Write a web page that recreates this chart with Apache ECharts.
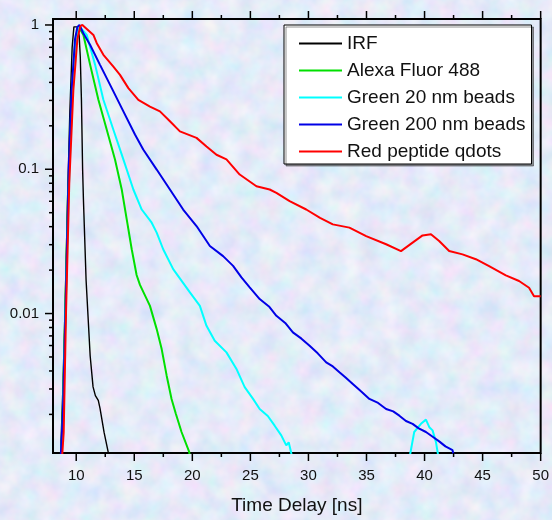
<!DOCTYPE html>
<html>
<head>
<meta charset="utf-8">
<title>Fluorescence decay</title>
<script src="https://cdn.jsdelivr.net/npm/echarts/dist/echarts.min.js"></script>
<style>
  html, body { margin: 0; padding: 0; }
  body {
    width: 552px; height: 520px; overflow: hidden;
    background: #c6d2f0 url("data:image/svg+xml;utf8,<svg xmlns='http://www.w3.org/2000/svg' width='552' height='520'><filter id='n'><feTurbulence type='fractalNoise' baseFrequency='0.05' numOctaves='3' seed='7'/><feColorMatrix values='0.4 0 0 0 0.58  0 0.24 0 0 0.71  0 0 0.14 0 0.87  0 0 0 0 1'/></filter><rect width='552' height='520' filter='url(%23n)'/></svg>");
  }
  #chart { width: 552px; height: 520px; }
</style>
</head>
<body>
<div id="chart"></div>
<script>
// time delay [ns], normalised counts
const irf = [
  [8.6, 0.0008], [8.85, 0.003], [9.05, 0.012], [9.25, 0.06], [9.45, 0.25], [9.65, 0.7],
  [9.8, 0.97], [9.95, 1.0], [10.1, 0.97], [10.25, 0.85], [10.35, 0.6], [10.45, 0.3],
  [10.55, 0.1], [10.62, 0.062], [10.85, 0.017], [11.2, 0.0051], [11.45, 0.0031],
  [11.65, 0.0027], [11.9, 0.0025], [12.05, 0.0022], [12.4, 0.0015], [12.75, 0.0011], [12.85, 0.0009]
]
const alexa = [
  [8.6, 0.0008], [8.8, 0.0015], [9.05, 0.01], [9.3, 0.07], [9.6, 0.3], [9.9, 0.75],
  [10.2, 0.98], [10.35, 1.0], [10.62, 0.853], [11.2, 0.529], [11.91, 0.303], [12.63, 0.188],
  [13.34, 0.117], [13.92, 0.0724], [14.35, 0.0449], [14.78, 0.0279], [15.2, 0.0185],
  [15.49, 0.0158], [16.35, 0.0113], [16.93, 0.0078], [17.36, 0.00567], [17.79, 0.00371],
  [18.21, 0.00256], [18.58, 0.00202], [19.07, 0.00151], [19.73, 0.0011], [19.85, 0.0009]
]
const beads20 = [
  [8.6, 0.0008], [8.82, 0.0015], [9.08, 0.01], [9.35, 0.07], [9.65, 0.3], [9.95, 0.75],
  [10.25, 0.98], [10.4, 1.0], [10.91, 0.853], [11.63, 0.529], [12.34, 0.303], [13.2, 0.188],
  [14.06, 0.117], [14.92, 0.0724], [15.64, 0.0526], [16.5, 0.0426], [16.93, 0.0364],
  [17.49, 0.0279], [18.35, 0.0203], [19.79, 0.014], [20.65, 0.0113], [21.22, 0.00822],
  [21.93, 0.00648], [22.94, 0.00538], [23.8, 0.00413], [24.51, 0.00309], [25.23, 0.00256],
  [25.8, 0.00218], [26.5, 0.00195], [27.09, 0.00167], [27.66, 0.00143], [28.09, 0.00122],
  [28.3, 0.00128], [28.52, 0.00108], [28.7, 0.0009],
  [34, '-'],
  [38.6, 0.0009], [39.11, 0.00151], [39.69, 0.00172], [40.12, 0.00184], [40.41, 0.00163],
  [40.69, 0.00155], [40.98, 0.00129], [41.3, 0.0009]
]
const beads200 = [
  [8.6, 0.0008], [8.85, 0.002], [9.1, 0.012], [9.35, 0.1], [9.6, 0.35], [9.9, 0.8],
  [10.1, 0.97], [10.28, 1.0], [10.6, 0.88], [11.2, 0.727], [12.05, 0.529], [13.06, 0.365],
  [14.06, 0.252], [15.06, 0.174], [15.77, 0.137], [16.93, 0.0995], [18.07, 0.0724],
  [19.21, 0.0526], [20.36, 0.0404], [21.51, 0.0294], [22.65, 0.025], [23.51, 0.0214],
  [24.23, 0.0178], [24.94, 0.0152], [25.8, 0.0126], [26.6, 0.0112], [27.24, 0.00965],
  [28.0, 0.0086], [28.66, 0.0074], [29.4, 0.0067], [30.1, 0.00598], [30.8, 0.0053],
  [31.53, 0.00459], [32.1, 0.0043], [32.67, 0.00392], [33.2, 0.0036], [33.82, 0.00325],
  [34.5, 0.0029], [35.25, 0.00256], [36.0, 0.0024], [36.69, 0.00218], [37.3, 0.0021],
  [37.83, 0.00196], [38.4, 0.0018], [38.97, 0.00172], [39.5, 0.0016], [40.12, 0.00151],
  [40.7, 0.0014], [41.26, 0.0013], [41.8, 0.0012], [42.41, 0.00113], [42.7, 0.0009]
]
const qdots = [
  [8.7, 0.0008], [8.92, 0.0015], [9.12, 0.01], [9.4, 0.08], [9.75, 0.35], [10.1, 0.8],
  [10.35, 0.98], [10.53, 1.0], [11.48, 0.853], [11.77, 0.748], [12.34, 0.621], [13.2, 0.515],
  [13.77, 0.451], [14.49, 0.365], [15.35, 0.303], [16.35, 0.272], [17.21, 0.252],
  [18.07, 0.215], [18.93, 0.183], [20.36, 0.165], [21.22, 0.144], [22.08, 0.126],
  [22.94, 0.117], [24.08, 0.0919], [25.52, 0.0763], [26.66, 0.0724], [27.24, 0.0687],
  [28.38, 0.0601], [29.81, 0.0526], [31.0, 0.046], [32.1, 0.0415], [33.53, 0.0394],
  [34.97, 0.0344], [36.69, 0.0302], [37.97, 0.0271], [38.97, 0.031], [39.83, 0.0348],
  [40.55, 0.0354], [41.26, 0.0318], [42.12, 0.0271], [43.27, 0.0257], [44.42, 0.0238],
  [45.56, 0.0213], [47.0, 0.0184], [48.14, 0.0168], [49.0, 0.0151], [49.43, 0.0132], [50.0, 0.0132]
]

const seriesNames = ['IRF', 'Alexa Fluor 488', 'Green 20 nm beads', 'Green 200 nm beads', 'Red peptide qdots']
const seriesColors = ['#000000', '#00e000', '#00ffff', '#0000e6', '#ff0000']
const seriesData = [irf, alexa, beads20, beads200, qdots]

const xLabels = [10, 15, 20, 25, 30, 35, 40, 45, 50]
const xMinorTicks = [12.5, 17.5, 22.5, 27.5, 32.5, 37.5, 42.5, 47.5]
const yLabels = [0.01, 0.1, 1]
const yMinorTicks = [
  0.002, 0.003, 0.004, 0.005, 0.006, 0.007, 0.008, 0.009,
  0.02, 0.03, 0.04, 0.05, 0.06, 0.07, 0.08, 0.09,
  0.2, 0.3, 0.4, 0.5, 0.6, 0.7, 0.8, 0.9
]

const X_MIN = 8, X_MAX = 50, Y_MIN = 0.00108, Y_MAX = 1.1

// [x, y, length, kind]  kind 0 = time tick (bottom + top), 1 = count tick (left)
const tickData = [
  ...xLabels.map(v => [v, 1, 8, 0]),
  ...xMinorTicks.map(v => [v, 1, 4, 0]),
  ...yLabels.map(v => [X_MIN, v, 8, 1]),
  ...yMinorTicks.map(v => [X_MIN, v, 4, 1])
]

const renderTick = (params, api) => {
  const cs = params.coordSys
  const len = api.value(2)
  const p = api.coord([api.value(0), api.value(1)])
  const style = { stroke: '#000', lineWidth: 1.5 }
  if (api.value(3) === 0) {
    const bottom = cs.y + cs.height
    return {
      type: 'group',
      children: [
        { type: 'line', shape: { x1: p[0], y1: bottom, x2: p[0], y2: bottom + len }, style },
        { type: 'line', shape: { x1: p[0], y1: cs.y, x2: p[0], y2: cs.y - len }, style }
      ]
    }
  }
  return { type: 'line', shape: { x1: cs.x, y1: p[1], x2: cs.x - len, y2: p[1] }, style }
}

const isLabel = (v) => yLabels.some(l => Math.abs(v / l - 1) < 1e-6)

const chart = echarts.init(document.getElementById('chart'), null, { renderer: 'canvas' })
chart.setOption({
  animation: false,
  backgroundColor: 'transparent',
  textStyle: { fontFamily: 'Liberation Sans, Arial, sans-serif' },
  grid: {
    left: 53, right: 10, top: 19, bottom: 66,
    show: true, borderColor: '#000', borderWidth: 2, backgroundColor: 'transparent'
  },
  legend: {
    orient: 'vertical',
    left: 284, top: 25,
    padding: [9, 6, 3, 15],
    icon: 'rect',
    itemWidth: 43, itemHeight: 2, itemGap: 8,
    backgroundColor: '#ffffff',
    borderColor: '#000', borderWidth: 1,
    shadowColor: 'rgba(60,60,60,0.55)', shadowOffsetX: 2, shadowOffsetY: 2, shadowBlur: 0,
    textStyle: { fontSize: 19, color: '#111', lineHeight: 18, fontFamily: 'Liberation Sans, Arial, sans-serif' },
    data: seriesNames
  },
  xAxis: {
    type: 'value',
    min: X_MIN, max: X_MAX,
    name: 'Time Delay [ns]',
    nameLocation: 'middle',
    nameGap: 43,
    nameTextStyle: { fontSize: 19, color: '#111' },
    axisLine: { show: false },
    axisTick: { show: false },
    splitLine: { show: false },
    axisLabel: { customValues: xLabels, fontSize: 15, color: '#111', margin: 15 }
  },
  yAxis: {
    type: 'log',
    logBase: 10,
    min: Y_MIN, max: Y_MAX,
    axisLine: { show: false },
    axisTick: { show: false },
    splitLine: { show: false },
    minorTick: { show: false },
    axisLabel: {
      fontSize: 15, color: '#111', margin: 14,
      formatter: (v) => (isLabel(v) ? String(+(+v).toPrecision(3)) : '')
    }
  },
  series: [
    ...seriesData.map((d, i) => ({
      name: seriesNames[i],
      type: 'line',
      data: d,
      symbol: 'none',
      showSymbol: false,
      clip: true,
      color: seriesColors[i],
      lineStyle: { color: seriesColors[i], width: i === 0 ? 1.4 : 2 },
      z: 3 + i
    })),
    {
      type: 'custom',
      silent: true,
      clip: false,
      z: 10,
      renderItem: renderTick,
      data: tickData
    }
  ]
})
</script>
</body>
</html>
